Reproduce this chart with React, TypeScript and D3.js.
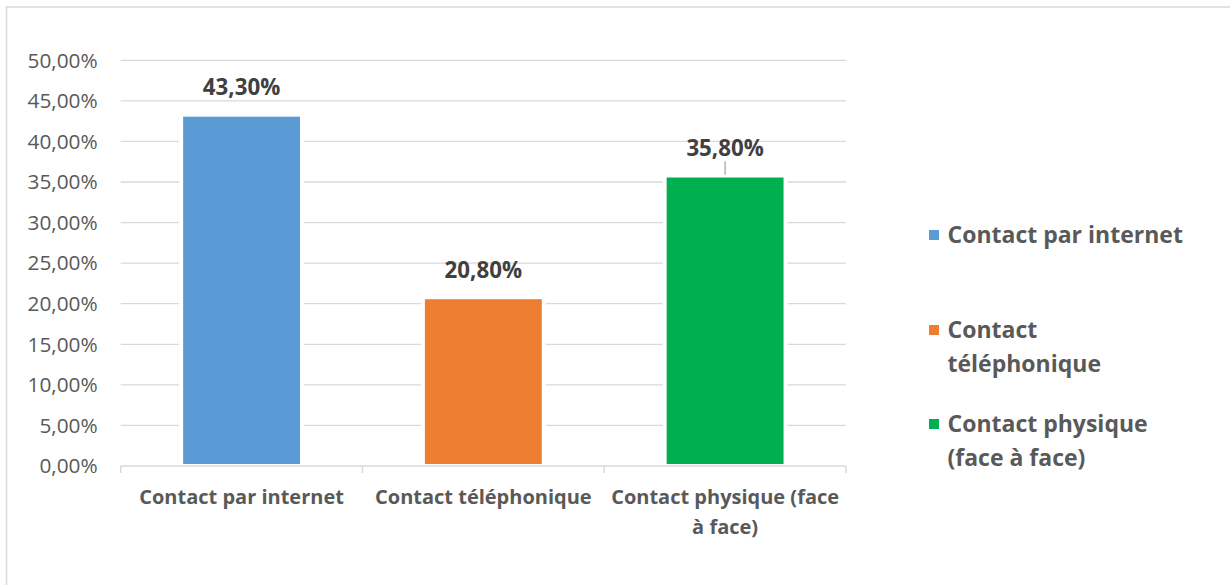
import React from "react";
import * as d3 from "d3";

// Répartition des modes de contact
const categories = ["Contact par internet", "Contact téléphonique", "Contact physique (face à face)"];
const axisLabelLines = [["Contact par internet"], ["Contact téléphonique"], ["Contact physique (face", "à face)"]];
const legendLabelLines = [["Contact par internet"], ["Contact", "téléphonique"], ["Contact physique", "(face à face)"]];
const values = [43.3, 20.8, 35.8];
const valueLabels = ["43,30%", "20,80%", "35,80%"];
const colors = ["#5B9BD5", "#ED7D31", "#00B050"];
const yTicks = [0, 5, 10, 15, 20, 25, 30, 35, 40, 45, 50];
const withLeader = [false, false, true];

const W = 1230;
const H = 585;
const FONT = "'Open Sans', 'Noto Sans', sans-serif";

export default function App() {
  const plotLeft = 120.7;
  const plotRight = 846;
  const plotTop = 60.3;
  const plotBottom = 466;

  const x = d3.scaleBand<string>().domain(categories).range([plotLeft, plotRight]).paddingInner(0.5).paddingOuter(0.25);
  const xb = d3.scaleBand<string>().domain(categories).range([plotLeft, plotRight]);
  const y = d3.scaleLinear().domain([0, 50]).range([plotBottom, plotTop]);
  const fmt = (v: number) => d3.format(".2f")(v).replace(".", ",") + "%";

  const legendX = 929;
  const legendRows = [235, 330, 424];
  const lineH = 33.5;

  return (
    <svg width={W} height={H} style={{ position: "absolute", left: 0, top: 0, background: "#fff" }} fontFamily={FONT}>
      <rect x={0} y={0} width={W} height={H} fill="#fff" />
      <rect x={6.5} y={7} width={W + 20} height={H + 20} fill="none" stroke="#d9d9d9" strokeWidth={1.5} />

      {/* gridlines */}
      {yTicks.slice(1).map((t) => (
        <line key={t} x1={plotLeft} x2={plotRight} y1={y(t)} y2={y(t)} stroke="#d9d9d9" strokeWidth={1.3} />
      ))}

      {/* y tick labels */}
      {yTicks.map((t) => (
        <text key={t} x={97.7} y={y(t)} dy="0.35em" textAnchor="end" fontSize={20.8} fill="#595959">
          {fmt(t)}
        </text>
      ))}

      {/* bars */}
      {categories.map((c, i) => (
        <rect
          key={c}
          x={x(c)}
          y={y(values[i])}
          width={x.bandwidth()}
          height={plotBottom - y(values[i])}
          fill={colors[i]}
          stroke="#fff"
          strokeWidth={4}
        />
      ))}

      {/* category axis */}
      <line x1={plotLeft} x2={plotRight} y1={plotBottom} y2={plotBottom} stroke="#d9d9d9" strokeWidth={1.5} />
      {[...categories.map((c) => xb(c) as number), plotRight].map((px, i) => (
        <line key={i} x1={px} x2={px} y1={plotBottom} y2={plotBottom + 7} stroke="#d9d9d9" strokeWidth={1.5} />
      ))}
      {categories.map((c, i) => (
        <text key={c} textAnchor="middle" fontSize={20} fontWeight="bold" fill="#595959">
          {axisLabelLines[i].map((ln, j) => (
            <tspan key={j} x={(xb(c) as number) + xb.bandwidth() / 2} y={496.5 + j * 30} dy="0.35em">
              {ln}
            </tspan>
          ))}
        </text>
      ))}

      {/* value labels */}
      {categories.map((c, i) => {
        const cx = (x(c) as number) + x.bandwidth() / 2;
        const ly = y(values[i]) - 27.5;
        return (
          <g key={c}>
            <text x={cx} y={ly} dy="0.35em" textAnchor="middle" fontSize={22.3} fontWeight="bold" fill="#404040">
              {valueLabels[i]}
            </text>
            {withLeader[i] && (
              <line x1={cx} x2={cx} y1={ly + 13.5} y2={y(values[i]) - 1} stroke="#a6a6a6" strokeWidth={1.3} />
            )}
          </g>
        );
      })}

      {/* legend */}
      {categories.map((c, i) => (
        <g key={c}>
          <rect x={legendX} y={legendRows[i] - 5} width={10} height={10} fill={colors[i]} />
          <text fontSize={23} fontWeight="bold" fill="#595959">
            {legendLabelLines[i].map((ln, j) => (
              <tspan key={j} x={947.5} y={legendRows[i] + j * lineH} dy="0.35em">
                {ln}
              </tspan>
            ))}
          </text>
        </g>
      ))}
    </svg>
  );
}
